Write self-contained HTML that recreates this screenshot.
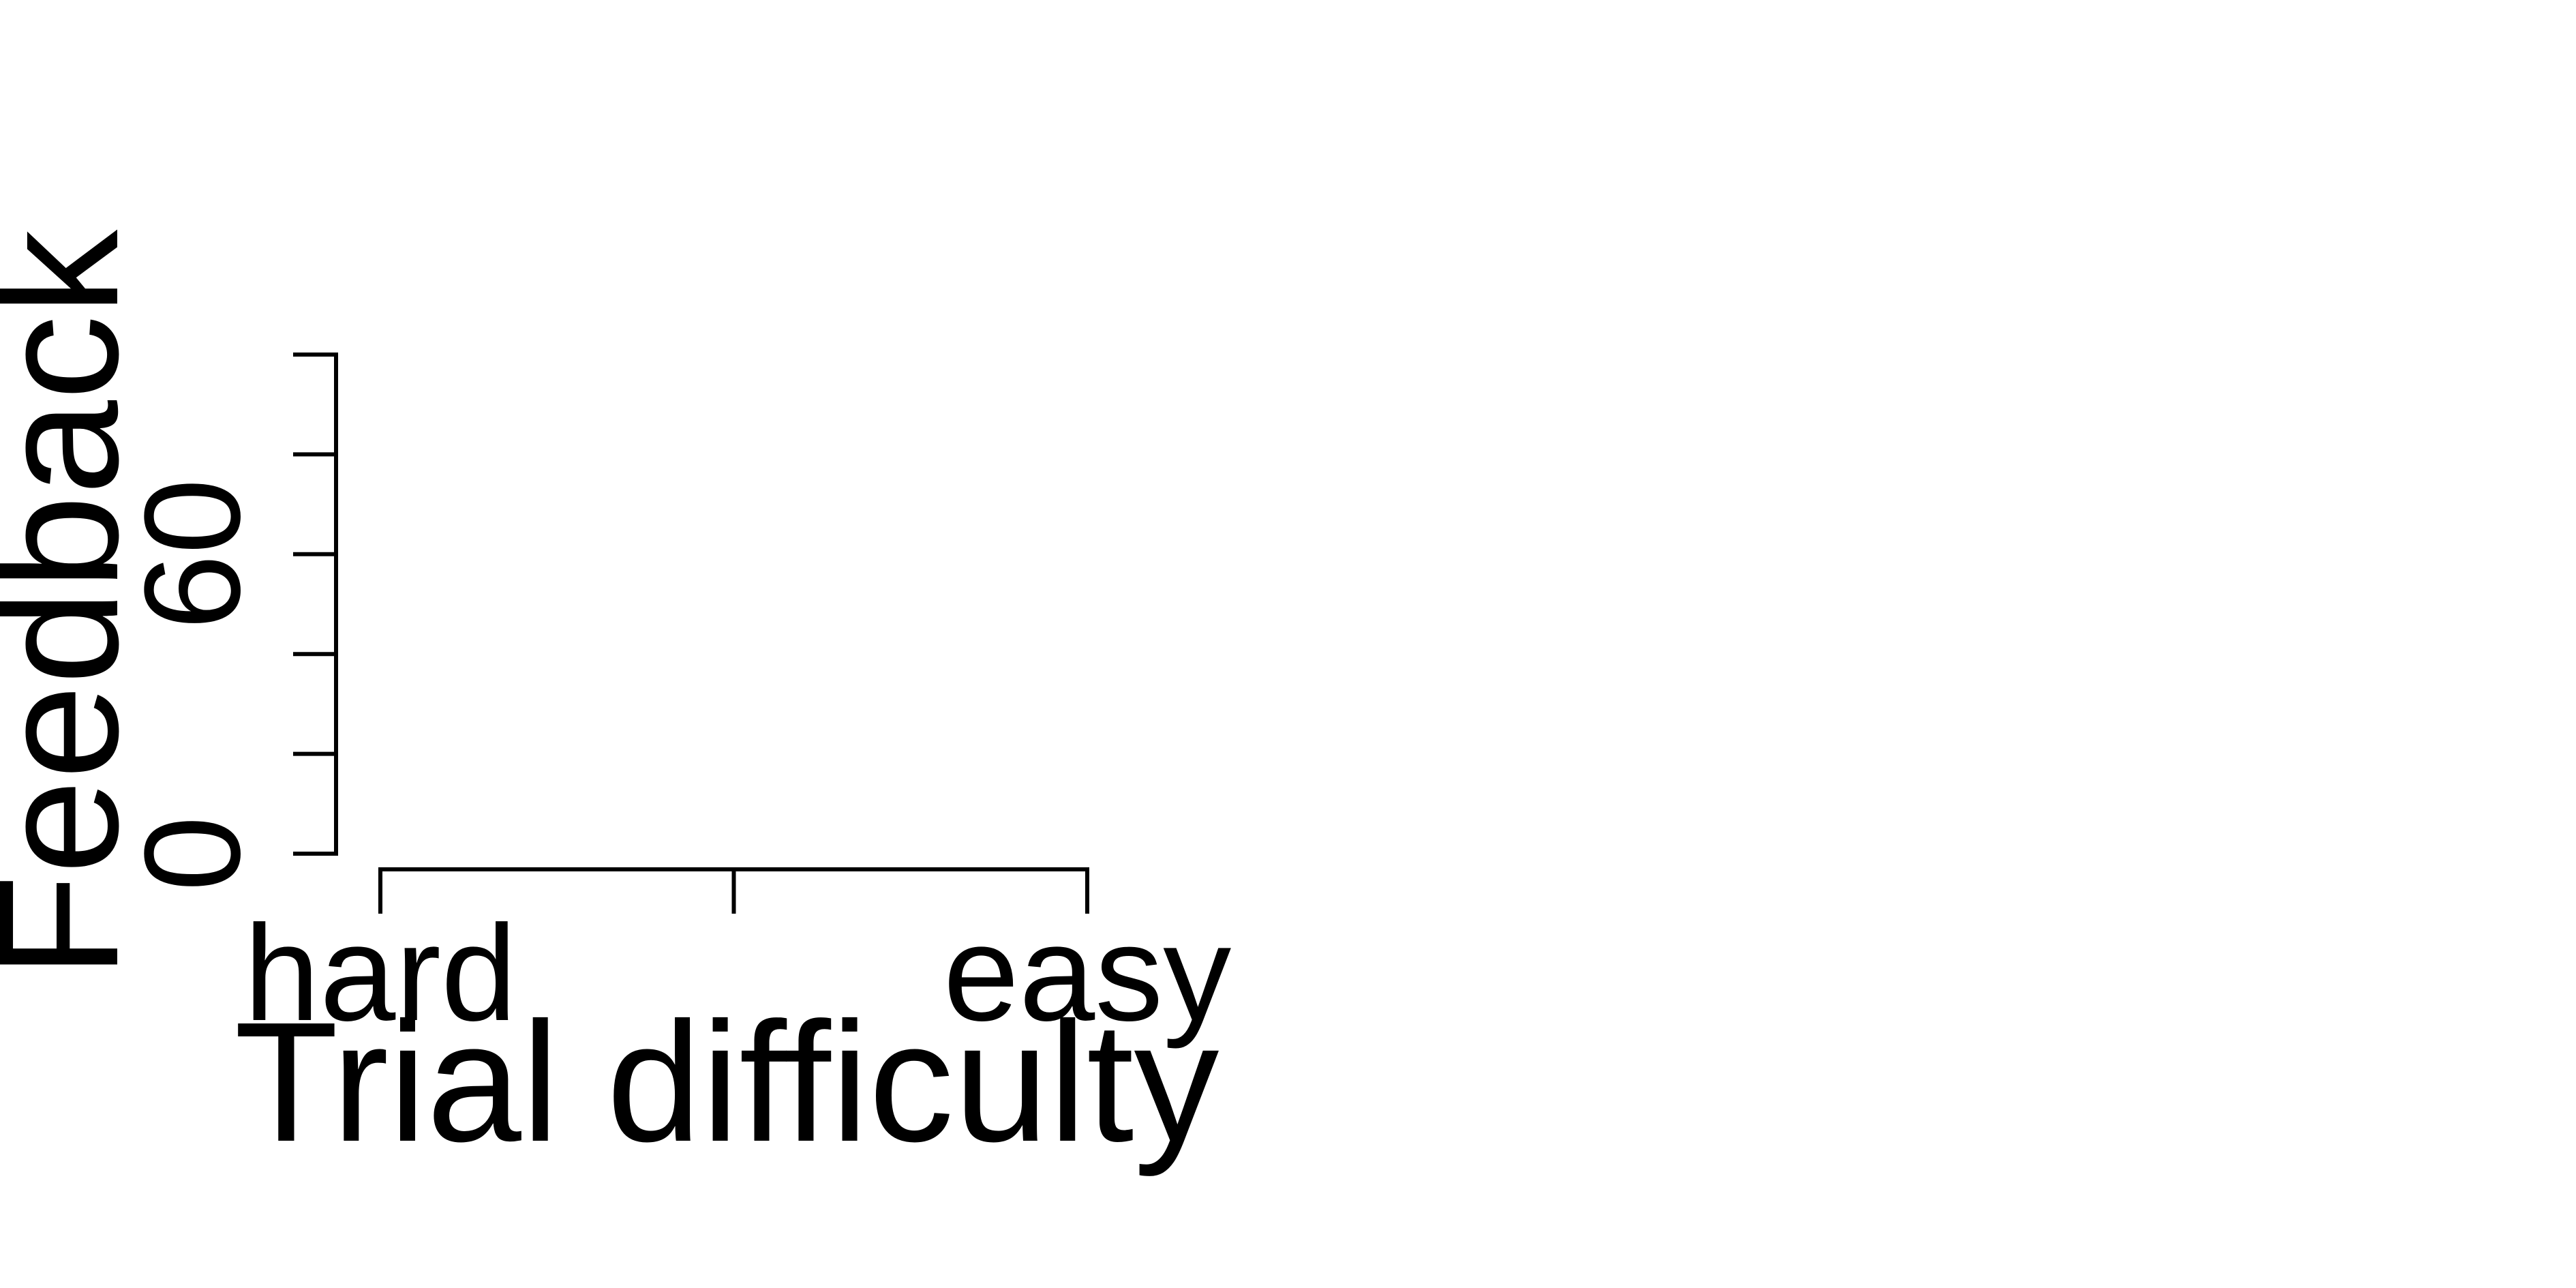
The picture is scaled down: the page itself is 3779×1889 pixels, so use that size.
<!DOCTYPE html>
<html><head><meta charset="utf-8"><style>
html,body{margin:0;padding:0;background:#fff;}
svg{display:block;}
text{font-family:"Liberation Sans",Arial,sans-serif;fill:#000;}
</style></head><body>
<svg width="3779" height="1889" viewBox="0 0 3779 1889" xmlns="http://www.w3.org/2000/svg">
<g id="yaxis"></g>
<g id="xaxis"></g>
<text transform="translate(172,886) rotate(-90)" text-anchor="middle" font-size="250">Feedback</text>
<text x="1066" y="1673" text-anchor="middle" font-size="250">Trial difficulty</text>
</svg>
<script>
const yTicks=[0,20,40,60,80,100];
const yLabels=["0","","","60","",""];
const xTicks=[0,0.5,1];
const xLabels=["hard","","easy"];
const NS="http://www.w3.org/2000/svg";
function y(v){return 1252-(v/100)*(1252-520);}
function x(v){return 558+v*(1595-558);}
function mk(t,a,p){const e=document.createElementNS(NS,t);for(const k in a)e.setAttribute(k,a[k]);p.appendChild(e);return e;}
const ya=document.getElementById('yaxis');
const yl=mk('line',{x1:493,x2:493,y1:y(yTicks[0])+3,y2:y(yTicks[yTicks.length-1])-3,stroke:'#000','stroke-width':6},ya);


yTicks.forEach((v,i)=>{
 const t=mk('line',{x1:430,x2:493,y1:y(v),y2:y(v),stroke:'#000','stroke-width':6},ya);
 
 
 if(yLabels[i]){
  const tx=mk('text',{transform:`translate(351,${y(v)}) rotate(-90)`,'text-anchor':'middle','font-size':200},ya);
  tx.textContent=yLabels[i];
  
  
 }
});
const xa=document.getElementById('xaxis');
const xl=mk('line',{x1:x(xTicks[0])-3,x2:x(xTicks[xTicks.length-1])+3,y1:1275,y2:1275,stroke:'#000','stroke-width':6},xa);


xTicks.forEach((v,i)=>{
 const t=mk('line',{x1:x(v),x2:x(v),y1:1275,y2:1340,stroke:'#000','stroke-width':6},xa);
 
 
 if(xLabels[i]){
  const tx=mk('text',{x:x(v),y:1496,'text-anchor':'middle','font-size':200},xa);
  tx.textContent=xLabels[i];
  
  
 }
});
</script>
</body></html>
